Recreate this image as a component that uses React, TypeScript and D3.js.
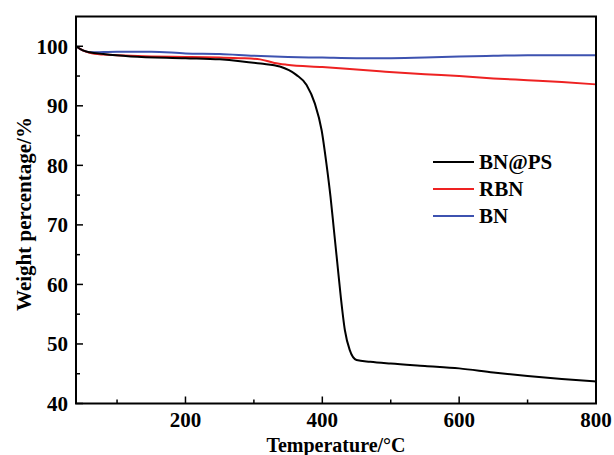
import * as d3 from 'd3';
import React, { useEffect, useRef } from 'react';

// temperatures (°C) and weight (%)
const bnpsTemp = [40, 50, 60, 80, 120, 200, 250, 280, 310, 338, 362, 377, 389, 399, 406, 412, 417, 422, 427, 433, 440, 450, 470, 500, 550, 600, 650, 700, 750, 800];
const bnpsWeight = [100, 99.3, 99.0, 98.7, 98.3, 98.0, 97.8, 97.5, 97.1, 96.6, 95.2, 93.5, 90.4, 85.9, 80.3, 74.7, 69.1, 63.5, 57.9, 52.3, 49.0, 47.3, 47.0, 46.7, 46.3, 45.9, 45.2, 44.6, 44.1, 43.7];

const rbnTemp = [40, 50, 60, 80, 100, 150, 200, 250, 280, 309, 330, 348, 400, 484, 550, 600, 650, 700, 750, 800];
const rbnWeight = [100, 99.3, 98.9, 98.6, 98.5, 98.3, 98.2, 98.1, 98.0, 97.8, 97.2, 96.9, 96.5, 95.8, 95.3, 95.0, 94.6, 94.3, 94.0, 93.6];

const bnTemp = [40, 50, 60, 100, 150, 200, 250, 300, 350, 400, 450, 500, 550, 600, 650, 700, 800];
const bnWeight = [100, 99.3, 99.0, 99.1, 99.1, 98.8, 98.7, 98.4, 98.2, 98.1, 98.0, 98.0, 98.1, 98.3, 98.4, 98.5, 98.5];

const seriesNames = ['BN@PS', 'RBN', 'BN'];
const seriesColors = ['#000000', '#ee2222', '#3d52b0'];

const xTicks = [200, 400, 600, 800];
const yTicks = [40, 50, 60, 70, 80, 90, 100];

export default function App() {
  const ref = useRef<SVGSVGElement>(null);

  const width = 614,
    height = 455;
  const margin = { left: 76, right: 18, top: 16.5, bottom: 51.5 };

  useEffect(() => {
    const svg = d3.select(ref.current);
    svg.selectAll('*').remove();

    const x = d3.scaleLinear().domain([40, 800]).range([margin.left, width - margin.right]);
    const y = d3.scaleLinear().domain([40, 105]).range([height - margin.bottom, margin.top]);

    const font = '"Liberation Serif", "Times New Roman", serif';

    const g = svg.append('g');

    // curves
    const line = d3
      .line<[number, number]>()
      .x((d) => x(d[0]))
      .y((d) => y(d[1]))
      .curve(d3.curveMonotoneX);

    const all = [
      d3.zip(bnpsTemp, bnpsWeight),
      d3.zip(rbnTemp, rbnWeight),
      d3.zip(bnTemp, bnWeight),
    ];
    // draw BN first, then RBN, black on top
    [2, 1, 0].forEach((i) => {
      g.append('path')
        .attr('d', line(all[i] as [number, number][]))
        .attr('fill', 'none')
        .attr('stroke', seriesColors[i])
        .attr('stroke-width', 2);
    });

    // ticks (inside)
    const xMinor = d3.range(100, 800, 200);
    const yMinor = d3.range(45, 105, 10);
    const y0 = y(40);
    const x0 = x(40);
    xTicks.forEach((t) => g.append('line').attr('x1', x(t)).attr('x2', x(t)).attr('y1', y0).attr('y2', y0 - 7).attr('stroke', '#000').attr('stroke-width', 1.5));
    xMinor.forEach((t) => g.append('line').attr('x1', x(t)).attr('x2', x(t)).attr('y1', y0).attr('y2', y0 - 4).attr('stroke', '#000').attr('stroke-width', 1.5));
    yTicks.forEach((t) => g.append('line').attr('x1', x0).attr('x2', x0 + 7).attr('y1', y(t)).attr('y2', y(t)).attr('stroke', '#000').attr('stroke-width', 1.5));
    yMinor.forEach((t) => g.append('line').attr('x1', x0).attr('x2', x0 + 4).attr('y1', y(t)).attr('y2', y(t)).attr('stroke', '#000').attr('stroke-width', 1.5));

    // frame
    g.append('rect')
      .attr('x', margin.left)
      .attr('y', margin.top)
      .attr('width', width - margin.left - margin.right)
      .attr('height', height - margin.top - margin.bottom)
      .attr('fill', 'none')
      .attr('stroke', '#000')
      .attr('stroke-width', 2);

    // tick labels
    g.selectAll('text.xl')
      .data(xTicks)
      .enter()
      .append('text')
      .attr('x', (d) => x(d))
      .attr('y', y0 + 23)
      .attr('text-anchor', 'middle')
      .style('font-family', font)
      .style('font-weight', 'bold')
      .style('font-size', '21px')
      .text((d) => d);

    g.selectAll('text.yl')
      .data(yTicks)
      .enter()
      .append('text')
      .attr('x', x0 - 8)
      .attr('y', (d) => y(d))
      .attr('dy', '0.35em')
      .attr('text-anchor', 'end')
      .style('font-family', font)
      .style('font-weight', 'bold')
      .style('font-size', '21px')
      .text((d) => d);

    // axis titles
    g.append('text')
      .attr('x', (margin.left + width - margin.right) / 2)
      .attr('y', 452)
      .attr('text-anchor', 'middle')
      .style('font-family', font)
      .style('font-weight', 'bold')
      .style('font-size', '20px')
      .text('Temperature/°C');

    g.append('text')
      .attr('transform', `translate(31, ${(margin.top + height - margin.bottom) / 2 + 4}) rotate(-90)`)
      .attr('text-anchor', 'middle')
      .style('font-family', font)
      .style('font-weight', 'bold')
      .style('font-size', '21px')
      .text('Weight percentage/%');

    // legend
    seriesNames.forEach((name, i) => {
      const ly = 162 + i * 27;
      g.append('line').attr('x1', 433).attr('x2', 474).attr('y1', ly).attr('y2', ly).attr('stroke', seriesColors[i]).attr('stroke-width', 2);
      g.append('text')
        .attr('x', 479)
        .attr('y', ly)
        .attr('dy', '0.35em')
        .style('font-family', font)
        .style('font-weight', 'bold')
        .style('font-size', '21px')
        .text(name);
    });
  }, []);

  return (
    <svg
      ref={ref}
      width={width}
      height={height}
      style={{ position: 'absolute', left: 0, top: 0, background: '#fff' }}
    />
  );
}
